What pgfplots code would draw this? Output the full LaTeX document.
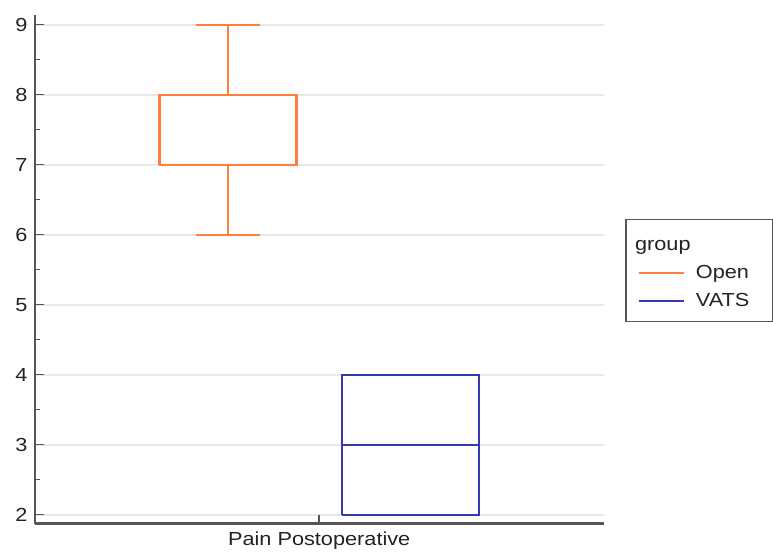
\documentclass[border=0pt]{standalone}
\usepackage{xcolor}
\usepackage{fontspec}
\setmainfont{Liberation Sans}[FakeStretch=1.15]
\usepackage{pgfplots}
\pgfplotsset{compat=1.18}
\definecolor{openc}{RGB}{255,128,60}
\definecolor{vatsc}{RGB}{55,55,175}
\definecolor{spine}{RGB}{85,85,85}
\definecolor{ticktext}{RGB}{35,35,35}
\definecolor{gridc}{RGB}{232,232,232}
\begin{document}
\fontsize{19}{22}\selectfont
\begin{tikzpicture}
\begin{axis}[
  scale only axis,
  width=570bp, height=510bp,
  xmin=-1.557, xmax=1.557,
  ymin=1.87, ymax=9.14,
  xtick={0}, xticklabels={Pain Postoperative},
  ytick={2,3,4,5,6,7,8,9},
  minor y tick num=1,
  axis lines*=left,
  axis line style={spine, line width=2.8bp},
  tick align=inside,
  major tick length=9bp, minor tick length=5bp,
  every tick/.append style={spine, line width=1.5bp},
  ymajorgrids,
  major grid style={gridc, line width=1.8bp},
  /pgf/number format/assume math mode=true,
  tick label style={text=ticktext, font=\fontsize{19}{22}\selectfont},
  yticklabel style={xshift=-1bp},
  xticklabel style={yshift=-2bp},
  legend image code/.code={\draw[#1] (0bp,0bp) -- (45bp,0bp);},
  legend cell align=left,
  legend style={at={(axis description cs:1.0386,0.498)}, anchor=west,
    draw=spine, line width=1.3bp, text=ticktext, font=\fontsize{19}{22}\selectfont,
    inner xsep=12bp, inner ysep=10bp, row sep=8bp},
]
% Open: box 7-8, median 7, whiskers 6-9
\addplot[forget plot, color=openc, line width=2.3bp] coordinates {(-0.875,7) (-0.125,7) (-0.125,8) (-0.875,8) (-0.875,7)};
\addplot[forget plot, color=openc, line width=2.3bp] coordinates {(-0.5,8) (-0.5,9)};
\addplot[forget plot, color=openc, line width=2.3bp] coordinates {(-0.5,7) (-0.5,6)};
\addplot[forget plot, color=openc, line width=2.3bp] coordinates {(-0.6775,9) (-0.3225,9)};
\addplot[forget plot, color=openc, line width=2.3bp] coordinates {(-0.6775,6) (-0.3225,6)};
% VATS: box 2-4, median 3
\addplot[forget plot, color=vatsc, line width=2bp] coordinates {(0.125,2) (0.875,2) (0.875,4) (0.125,4) (0.125,2)};
\addplot[forget plot, color=vatsc, line width=2bp] coordinates {(0.125,3) (0.875,3)};
\addlegendimage{empty legend}
\addlegendentry{\hspace*{-52bp}\rule{0pt}{19bp}group}
\addlegendimage{color=openc, line width=2bp}
\addlegendentry{\hspace*{9bp}Open\hspace*{9bp}}
\addlegendimage{color=vatsc, line width=2bp}
\addlegendentry{\hspace*{9bp}VATS\hspace*{9bp}}
\end{axis}
\path[use as bounding box] (-35bp,-32bp) rectangle (738bp,525bp);
\end{tikzpicture}
\end{document}
